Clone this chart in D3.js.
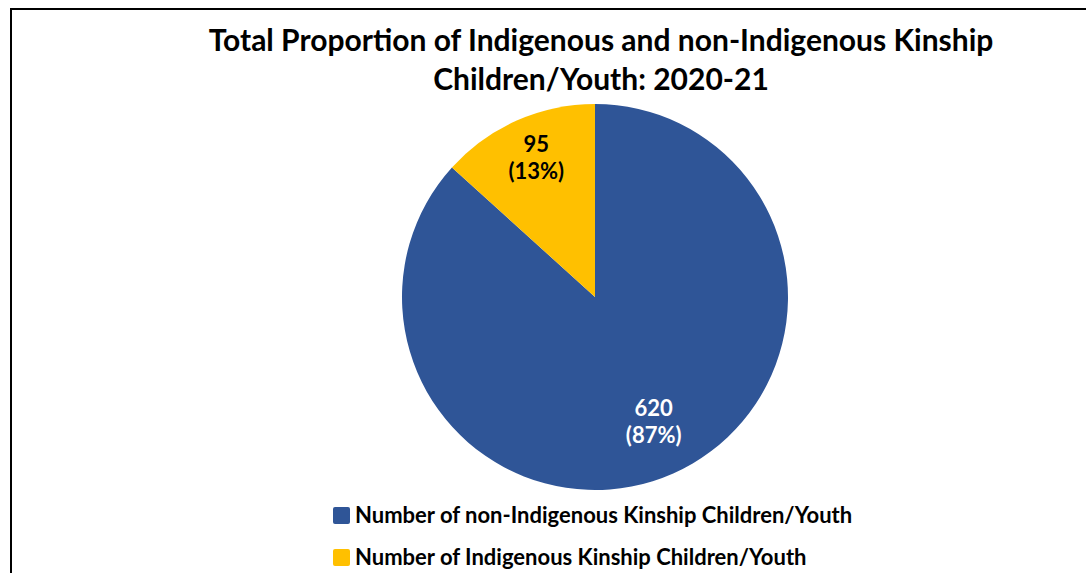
<!DOCTYPE html>
<html><head><meta charset="utf-8">
<script src="https://cdn.jsdelivr.net/npm/d3@7"></script>
<style>body{margin:0;background:#fff}svg{display:block}text{font-family:Lato,"Open Sans",sans-serif;font-weight:bold}</style>
</head><body>
<svg id="c" width="1086" height="573"></svg>
<script>
const categories = ["Number of non-Indigenous Kinship Children/Youth", "Number of Indigenous Kinship Children/Youth"];
const values = [620, 95];
const percents = ["87%", "13%"];
const colors = ["#2F5597", "#FFC000"];
const titleLines = ["Total Proportion of Indigenous and non-Indigenous Kinship", "Children/Youth: 2020-21"];

const svg = d3.select("#c");
svg.append("rect").attr("x", 11).attr("y", 9).attr("width", 1200).attr("height", 700)
  .attr("fill", "#fff").attr("stroke", "#000").attr("stroke-width", 2);

svg.selectAll("text.title").data(titleLines).join("text").attr("class", "title")
  .attr("x", 601).attr("y", (d, i) => 51 + i * 39).attr("text-anchor", "middle")
  .attr("font-size", 30).attr("fill", "#000").text(d => d);

const cx = 595, cy = 297, r = 193;
const pie = d3.pie().sort(null).value(d => d);
const arcs = pie(values);
const arc = d3.arc().innerRadius(0).outerRadius(r);
const g = svg.append("g").attr("transform", `translate(${cx},${cy})`);
g.selectAll("path").data(arcs).join("path").attr("d", arc).attr("fill", (d, i) => colors[i]);

const labelArc = d3.arc().innerRadius(r * 0.75).outerRadius(r * 0.75);
const lbl = g.selectAll("g.lbl").data(arcs).join("g").attr("class", "lbl")
  .attr("transform", d => { const c = labelArc.centroid(d); return `translate(${c[0]},${c[1]})`; });
lbl.append("text").attr("text-anchor", "middle").attr("y", -13).attr("font-size", 22)
  .attr("fill", (d, i) => i === 0 ? "#fff" : "#000").text(d => d.data);
lbl.append("text").attr("text-anchor", "middle").attr("y", 14).attr("font-size", 22)
  .attr("fill", (d, i) => i === 0 ? "#fff" : "#000").text((d, i) => `(${percents[i]})`);

const leg = svg.selectAll("g.leg").data(categories).join("g").attr("class", "leg")
  .attr("transform", (d, i) => `translate(333,${507 + i * 42})`);
leg.append("rect").attr("width", 17).attr("height", 17).attr("rx", 2).attr("fill", (d, i) => colors[i]);
leg.append("text").attr("x", 22).attr("y", 16).attr("font-size", 22).attr("fill", "#000").text(d => d);
</script>
</body></html>
